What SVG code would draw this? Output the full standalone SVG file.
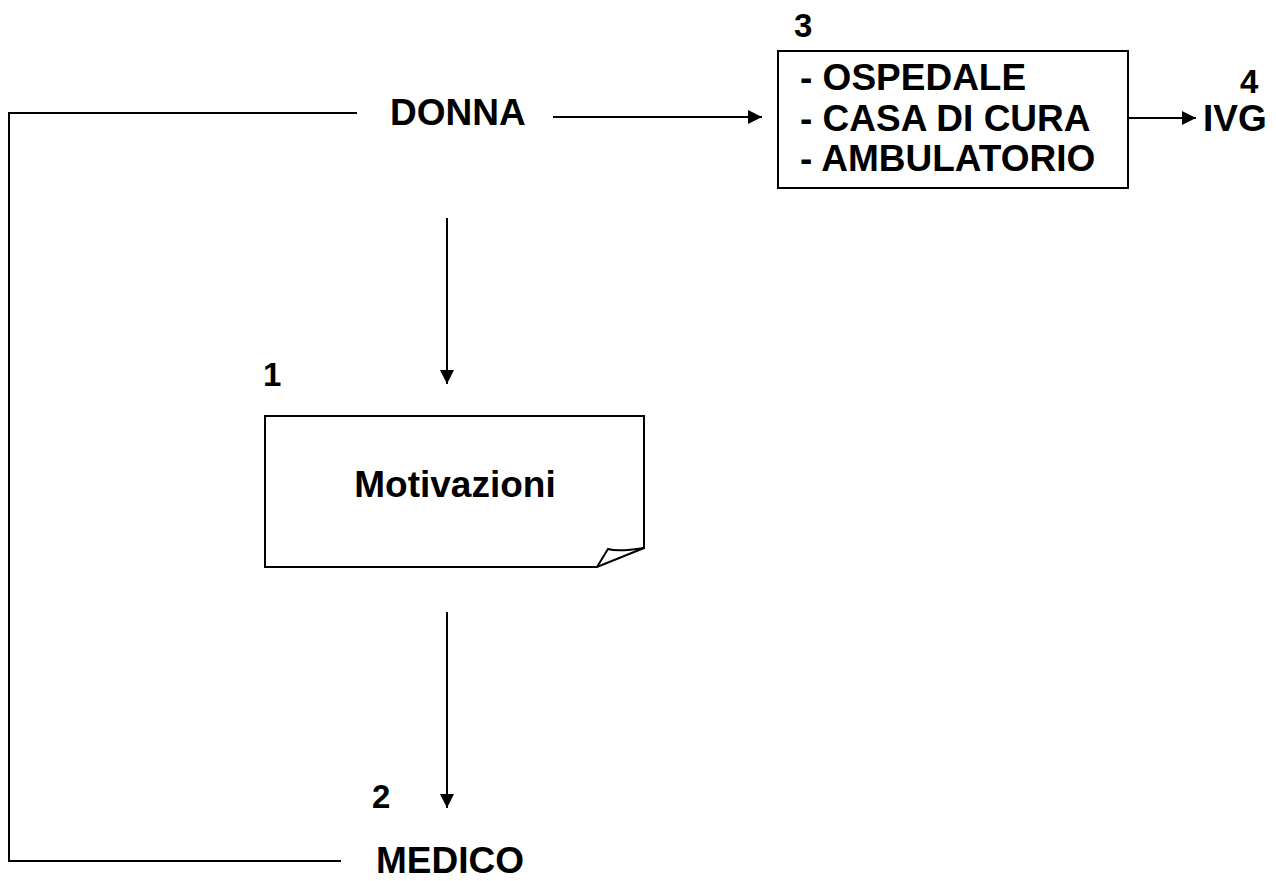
<svg xmlns="http://www.w3.org/2000/svg" width="1276" height="881" viewBox="0 0 1276 881">
  <defs>
    <marker id="arrow" viewBox="0 0 10 10" refX="10" refY="5" markerWidth="14" markerHeight="14" markerUnits="userSpaceOnUse" orient="auto">
      <path d="M0,0 L10,5 L0,10 Z" fill="#000"/>
    </marker>
    <style>
      .lbl { font-family: "Liberation Sans", Arial, sans-serif; font-weight: bold; fill: #000; }
      .big { font-size: 37px; }
      .num { font-size: 33px; }
      .line { stroke: #000; stroke-width: 2; fill: none; }
      .box { stroke: #000; stroke-width: 2; fill: #fff; }
    </style>
  </defs>
  <rect width="1276" height="881" fill="#fff"/>

  <g id="connectors">
    <!-- feedback bracket from DONNA round to MEDICO -->
    <polyline class="line" points="357,113 9,113 9,861 341,861"/>
    <!-- DONNA to facilities -->
    <line class="line" x1="553" y1="117" x2="762" y2="117" marker-end="url(#arrow)"/>
    <!-- facilities to IVG -->
    <line class="line" x1="1128" y1="118" x2="1196" y2="118" marker-end="url(#arrow)"/>
    <!-- DONNA to Motivazioni -->
    <line class="line" x1="447" y1="218" x2="447" y2="384" marker-end="url(#arrow)"/>
    <!-- Motivazioni to MEDICO -->
    <line class="line" x1="447" y1="612" x2="447" y2="808" marker-end="url(#arrow)"/>
  </g>

  <g id="donna">
    <text class="lbl big" x="390" y="125">DONNA</text>
  </g>

  <g id="strutture">
    <text class="lbl num" x="794" y="37">3</text>
    <rect class="box" x="778" y="51" width="350" height="137"/>
    <text class="lbl big" x="800" y="90">- OSPEDALE</text>
    <text class="lbl big" x="800" y="131">- CASA DI CURA</text>
    <text class="lbl big" x="800" y="171">- AMBULATORIO</text>
  </g>

  <g id="ivg">
    <text class="lbl num" x="1240" y="93">4</text>
    <text class="lbl big" x="1203" y="131">IVG</text>
  </g>

  <g id="motivazioni">
    <text class="lbl num" x="263" y="386">1</text>
    <path class="box" d="M265,416 H644 V548 L597,567 H265 Z"/>
    <path class="line" d="M597,567 L608,549 Q618,552 644,548"/>
    <text class="lbl big" x="455" y="497" text-anchor="middle">Motivazioni</text>
  </g>

  <g id="medico">
    <text class="lbl num" x="372" y="808">2</text>
    <text class="lbl big" x="376" y="873">MEDICO</text>
  </g>
</svg>
